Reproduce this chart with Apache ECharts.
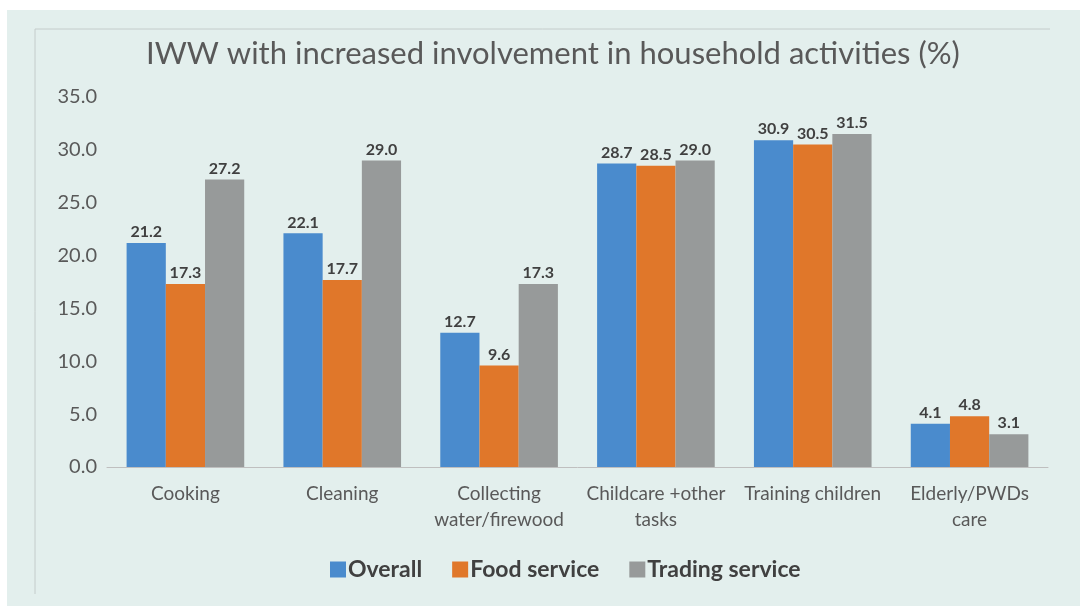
<!DOCTYPE html>
<html>
<head>
<meta charset="utf-8">
<script src="https://cdn.jsdelivr.net/npm/echarts@6/dist/echarts.min.js"></script>
<style>
	html, body { margin: 0; padding: 0; background: #ffffff; }
	#chart { width: 1080px; height: 606px; }
</style>
</head>
<body>
<div id="chart"></div>
<script>
	var categories = ['Cooking', 'Cleaning', 'Collecting\nwater/firewood', 'Childcare +other\ntasks', 'Training children', 'Elderly/PWDs\ncare'];
	var overall = [21.2, 22.1, 12.7, 28.7, 30.9, 4.1];
	var foodService = [17.3, 17.7, 9.6, 28.5, 30.5, 4.8];
	var tradingService = [27.2, 29.0, 17.3, 29.0, 31.5, 3.1];

	var chart = echarts.init(document.getElementById('chart'));

	var seriesLabel = {
		show: true,
		position: 'top',
		distance: 3,
		color: '#404040',
		fontWeight: 'bold',
		fontSize: 16,
		fontFamily: 'Lato',
		formatter: function (p) { return p.value.toFixed(1); }
	};

	chart.setOption({
		backgroundColor: '#ffffff',
		graphic: [
			{ type: 'rect', shape: { x: 7, y: 10, width: 1073, height: 596 }, style: { fill: '#e3efed' }, z: -10 },
			{ type: 'line', shape: { x1: 35, y1: 29, x2: 1050, y2: 29 }, style: { stroke: '#c4cccb', lineWidth: 1 }, z: -5 },
			{ type: 'line', shape: { x1: 35, y1: 29, x2: 35, y2: 594 }, style: { stroke: '#c4cccb', lineWidth: 1 }, z: -5 }
		],
		title: {
			text: 'IWW with increased involvement in household activities (%)',
			left: 141,
			top: 33,
			textStyle: { fontSize: 31, fontWeight: 'normal', color: '#595959', fontFamily: 'Lato' }
		},
		legend: {
			bottom: 20,
			left: 325,
			itemWidth: 16,
			itemHeight: 16,
			itemGap: 30,
			icon: 'rect',
			textStyle: { fontSize: 23, fontWeight: 'bold', color: '#404040', fontFamily: 'Lato', padding: [0, 0, 0, -3] },
			data: ['Overall', 'Food service', 'Trading service']
		},
		grid: { left: 107, right: 32, top: 97, bottom: 139 },
		xAxis: {
			type: 'category',
			data: categories,
			axisLine: { lineStyle: { color: '#bfbfbf' } },
			axisTick: { show: false },
			axisLabel: { color: '#595959', fontSize: 19, fontFamily: 'Lato', lineHeight: 26, margin: 14, interval: 0 }
		},
		yAxis: {
			type: 'value',
			min: 0,
			max: 35,
			interval: 5,
			splitLine: { show: false },
			axisLine: { show: false },
			axisTick: { show: false },
			axisLabel: { color: '#595959', fontSize: 20, fontFamily: 'Lato', margin: 10, formatter: function (v) { return v.toFixed(1); } }
		},
		series: [
			{ name: 'Overall', type: 'bar', data: overall, barGap: '0%', barCategoryGap: '25%', itemStyle: { color: '#4a8bcd' }, label: seriesLabel },
			{ name: 'Food service', type: 'bar', data: foodService, barGap: '0%', barCategoryGap: '25%', itemStyle: { color: '#e0772a' }, label: seriesLabel },
			{ name: 'Trading service', type: 'bar', data: tradingService, barGap: '0%', barCategoryGap: '25%', itemStyle: { color: '#979a9a' }, label: seriesLabel }
		]
	});
</script>
</body>
</html>
